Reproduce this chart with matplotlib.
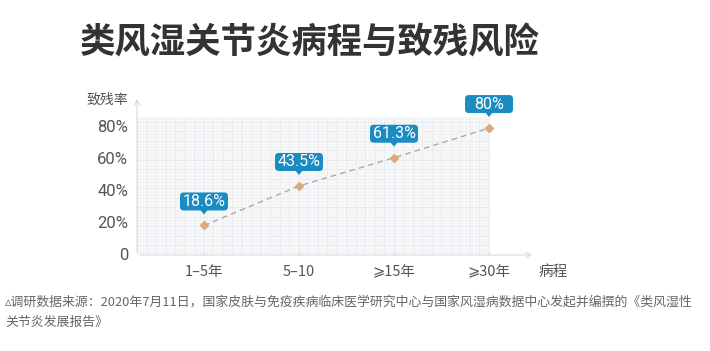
import matplotlib
matplotlib.use("Agg")
import matplotlib.pyplot as plt
import numpy as np
from matplotlib.patches import FancyBboxPatch, Polygon

plt.rcParams['font.family'] = ['Noto Sans CJK SC', 'DejaVu Sans']

categories = ["1–5年", "5–10", "⩾15年", "⩾30年"]
values = [18.6, 43.5, 61.3, 80.0]
labels = ["18.6%", "43.5%", "61.3%", "80%"]
yticks = [0, 20, 40, 60, 80]
yticklabels = ["0", "20%", "40%", "60%", "80%"]

W, H = 710, 351
fig = plt.figure(figsize=(W/100, H/100), dpi=100)
fig.patch.set_facecolor("white")

ax_l, ax_r, ax_b, ax_t = 137, 535, 255, 96
ax = fig.add_axes([ax_l/W, 1-ax_b/H, (ax_r-ax_l)/W, (ax_b-ax_t)/H])
ax.set_xlim(-0.705, 3.484)
ax.set_ylim(0, 100.2)
ax.axis("off")

x = np.arange(len(categories))
grid_top = 87
ax.add_patch(plt.Rectangle((-0.705, 0), 3.705, grid_top, facecolor="#f7f8fa",
                           edgecolor="none", zorder=0))
for xv in np.arange(-0.705, 3.0001, 0.0333):
    ax.plot([xv, xv], [0, grid_top], color="#eff1f3", lw=0.4, zorder=0.5)
for yv in np.arange(0, grid_top, 2.0):
    ax.plot([-0.705, 3.0], [yv, yv], color="#eff1f3", lw=0.4, zorder=0.5)
for xv in np.arange(-0.705, 3.0001, 0.1):
    ax.plot([xv, xv], [0, grid_top], color="#e7e9ec", lw=0.5, zorder=0.6)
for yv in np.arange(0, grid_top, 6.0):
    ax.plot([-0.705, 3.0], [yv, yv], color="#e7e9ec", lw=0.5, zorder=0.6)

ax.annotate("", xy=(3.484, 0), xytext=(-0.705, 0),
            arrowprops=dict(arrowstyle="->", color="#d8dbe0", lw=0.8), zorder=2)
ax.annotate("", xy=(-0.705, 100.2), xytext=(-0.705, 0),
            arrowprops=dict(arrowstyle="->", color="#d8dbe0", lw=0.8), zorder=2)

for xi in x:
    ax.plot([xi, xi], [0, 2], color="#d8dbe0", lw=0.8, zorder=2)

ax.plot(x, values, linestyle=(0, (4, 3)), color="#a9a9a9", lw=1.0, zorder=3)
ax.plot(x, values, linestyle="none", marker="D", ms=4.5, color="#d9ab7c",
        markeredgecolor="#d9ab7c", zorder=4)

px_x = (ax_r-ax_l)/(3.484+0.705)
px_y = (ax_b-ax_t)/100.2
for xi, v, lab in zip(x, values, labels):
    w = 48/px_x
    h = 18/px_y
    gap = 11/px_y
    tip = 5/px_y
    b = v + gap
    box = FancyBboxPatch((xi - w/2, b + tip*0.8), w, h,
                         boxstyle="round,pad=0,rounding_size=0.04",
                         mutation_aspect=(px_x/px_y),
                         facecolor="#1a8cc1", edgecolor="none", zorder=5, clip_on=False)
    ax.add_patch(box)
    tw = 4/px_x
    ax.add_patch(Polygon([[xi - tw, b + tip], [xi + tw, b + tip], [xi, b]],
                         closed=True, facecolor="#1a8cc1", edgecolor="none",
                         zorder=5, clip_on=False))
    ax.text(xi, b + tip*0.8 + h/2, lab, ha="center", va="center", color="white",
            fontsize=11.5, zorder=6, family=["Roboto", "DejaVu Sans"],
            clip_on=False)

for yt, yl in zip(yticks, yticklabels):
    fig.text(128/W, 1-(ax_b - yt*1.5875)/H, yl, ha="right", va="center",
             fontsize=12, color="#555555", family=["Roboto", "DejaVu Sans"])
for xi, c in zip(x, categories):
    ax.text(xi, -11, c, ha="center", va="center", fontsize=10.5, color="#555555",
            clip_on=False)
ax.text(3.52, -11, "病程", ha="left", va="center", fontsize=10.5, color="#555555",
        clip_on=False)
fig.text(128/W, 1-100/H, "致残率", ha="right", va="center", fontsize=10, color="#555555")

fig.text(80/W, 1-43/H, "类风湿关节炎病程与致残风险", ha="left", va="center",
         fontsize=25.5, fontweight="heavy", color="#333333")

fig.text(5/W, 1-302/H, "▵调研数据来源：2020年7月11日，国家皮肤与免疫疾病临床医学研究中心与国家风湿病数据中心发起并编撰的《类风湿性",
         ha="left", va="center", fontsize=9.3, color="#666666")
fig.text(5/W, 1-322/H, "关节炎发展报告》", ha="left", va="center", fontsize=9.3, color="#666666")

fig.savefig("out.png", dpi=100, facecolor="white")
